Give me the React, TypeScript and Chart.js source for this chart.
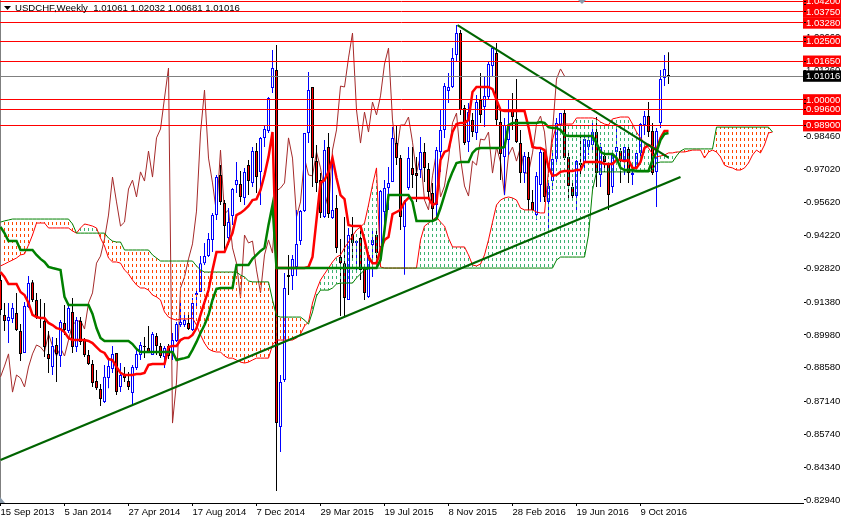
import { Chart, registerables } from 'chart.js';
import { useRef, useEffect } from 'react';

Chart.register(...registerables);

const opens = [
	.9232,.9083,.9057,.9066,.9091,.9015,.8921,.9117,.9223,.9147,
	.9074,.9057,.8917,.8861,.8955,.8908,.9049,.9015,.9096,.8946,
	.9057,.8981,.8912,.8874,.8801,.8767,.8712,.8814,.8853,.8921,
	.8776,.8827,.8801,.8750,.8857,.8912,.8951,.8942,.8912,.8993,
	.8951,.8904,.8951,.8925,.8972,.9040,.9040,.9049,.9019,.9168,
	.9181,.9304,.9334,.9403,.9509,.9680,.9560,.9411,.9505,.9637,
	.9641,.9582,.9722,.9646,.9782,.9693,.9838,.9867,1.0051,1.0128,
	.8605,.8806,.9253,.9249,.9288,.9398,.9526,.9859,1.0055,.9739,
	.9658,.9501,.9799,.9496,.9539,.9330,.9304,.9147,.9428,.9390,
	.9411,.9288,.9160,.9381,.9424,.9373,.9522,.9624,.9650,.9816,
	.9752,.9458,.9624,.9710,.9688,.9701,.9778,.9705,.9603,.9552,
	.9778,.9872,1.0038,1.0055,1.0191,1.0285,.9965,.9820,.9914,.9859,
	1.0000,.9970,1.0012,1.0145,1.0200,.9906,.9757,.9829,.9961,.9919,
	.9816,.9688,.9757,.9565,.9509,.9637,.9778,.9565,.9654,.9748,
	.9893,.9944,.9757,.9629,.9590,.9731,.9731,.9799,.9808,.9863,
	.9680,.9761,.9727,.9629,.9778,.9782,.9744,.9791,.9680,.9710,
	.9774,.9893,.9931,.9867,.9693,.9902,1.0093,1.01061,
];
const closes = [
	.9104,.9057,.9074,.9113,.9019,.8917,.9121,.9219,.9147,.9074,
	.9066,.8946,.8895,.8951,.8917,.9053,.9019,.9113,.8946,.9061,
	.8968,.8912,.8874,.8793,.8771,.8725,.8819,.8865,.8917,.8754,
	.8827,.8814,.8776,.8861,.8917,.8955,.8946,.8925,.9002,.8951,
	.8908,.8942,.8908,.8976,.9044,.9053,.9061,.9023,.9134,.9177,
	.9304,.9334,.9407,.9509,.9671,.9565,.9462,.9479,.9620,.9658,
	.9586,.9693,.9654,.9782,.9671,.9838,.9876,1.0008,1.0136,.8622,
	.8797,.9198,.9245,.9322,.9386,.9526,.9859,1.0042,.9752,.9646,
	.9518,.9786,.9513,.9531,.9369,.9304,.9155,.9424,.9390,.9398,
	.9275,.9177,.9339,.9403,.9347,.9612,.9624,.9646,.9838,.9752,
	.9501,.9565,.9752,.9680,.9676,.9778,.9710,.9607,.9535,.9786,
	.9872,1.0059,1.0055,1.0179,1.0285,.9957,.9816,.9948,.9863,.9991,
	.9936,1.0017,1.0153,1.0221,.9914,.9769,.9893,.9893,.9927,.9820,
	.9688,.9761,.9573,.9531,.9676,.9778,.9586,.9633,.9748,.9902,
	.9944,.9752,.9633,.9590,.9739,.9722,.9833,.9829,.9863,.9688,
	.9799,.9735,.9594,.9765,.9799,.9739,.9799,.9688,.9688,.9774,
	.9897,.9931,.9863,.9688,.9867,1.0089,1.0132,1.01016,
];
const highs = [
	.9254,.9134,.9134,.9134,.9177,.9044,.9138,.9249,.9232,.9177,
	.9151,.9134,.9015,.8989,.8985,.9061,.9125,.9125,.9155,.9074,
	.9074,.8985,.8934,.8891,.8848,.8789,.8870,.8891,.8951,.8921,
	.8878,.8861,.8840,.8870,.8938,.8968,.8989,.9036,.9010,.9006,
	.8963,.8951,.8959,.9006,.9053,.9138,.9096,.9096,.9155,.9189,
	.9334,.9390,.9432,.9518,.9680,.9722,.9573,.9539,.9624,.9735,
	.9697,.9710,.9744,.9799,.9816,.9842,.9889,1.0012,1.0213,1.0234,
	.8827,.9262,.9339,.9339,.9531,.9531,.9859,1.0119,1.0055,.9808,
	.9688,.9829,.9859,.9757,.9594,.9407,.9501,.9454,.9501,.9403,
	.9445,.9292,.9347,.9445,.9445,.9616,.9658,.9714,.9884,.9893,
	.9765,.9573,.9799,.9799,.9757,.9842,.9816,.9731,.9646,.9799,
	.9957,1.0072,1.0115,1.0221,1.0319,1.0298,.9978,.9987,.9944,1.0021,
	1.0115,1.0102,1.0162,1.0226,1.0243,.9957,.9923,1.0000,1.0029,1.0089,
	.9872,.9778,.9778,.9616,.9693,.9795,.9786,.9658,.9778,.9923,
	.9944,.9957,.9786,.9658,.9744,.9863,.9859,.9859,.9902,.9927,
	.9816,.9786,.9731,.9774,.9884,.9795,.9803,.9808,.9731,.9786,
	.9902,.9953,.9991,.9902,.9880,1.0128,1.0191,1.02032,
];
const lows = [
	.9083,.9015,.8963,.9049,.9015,.8887,.8921,.9113,.9138,.9066,
	.9027,.8904,.8836,.8827,.8797,.8861,.8998,.9006,.8921,.8925,
	.8955,.8904,.8870,.8776,.8763,.8695,.8708,.8771,.8836,.8742,
	.8754,.8797,.8763,.8699,.8848,.8891,.8899,.8921,.8912,.8912,
	.8899,.8857,.8895,.8891,.8968,.9032,.9032,.9019,.9015,.9117,
	.9181,.9296,.9330,.9351,.9488,.9552,.9360,.9381,.9467,.9603,
	.9565,.9552,.9594,.9629,.9603,.9552,.9799,.9859,1.0029,.8332,
	.8499,.8797,.9168,.9189,.9249,.9381,.9522,.9816,.9629,.9607,
	.9496,.9496,.9496,.9492,.9347,.9079,.9079,.9147,.9317,.9275,
	.9232,.9147,.9155,.9245,.9317,.9317,.9445,.9531,.9650,.9722,
	.9445,.9254,.9616,.9624,.9565,.9667,.9650,.9573,.9488,.9488,
	.9693,.9838,.9987,1.0051,1.0162,.9936,.9808,.9778,.9842,.9829,
	.9902,.9884,1.0000,1.0098,.9893,.9658,.9594,.9765,.9872,.9816,
	.9646,.9646,.9531,.9518,.9488,.9565,.9565,.9445,.9616,.9722,
	.9863,.9744,.9573,.9573,.9522,.9671,.9701,.9765,.9774,.9629,
	.9629,.9693,.9531,.9603,.9744,.9646,.9680,.9646,.9637,.9693,
	.9731,.9850,.9842,.9680,.9543,.9880,1.0059,1.00681,
];

const tenkan = [
	.9266,.9245,.9215,.9215,.9215,.9181,.9168,.9134,.9083,.9074,
	.9070,.9070,.9049,.9040,.9027,.9023,.9010,.8985,.8976,.8976,
	.8976,.8976,.8972,.8963,.8946,.8929,.8921,.8895,.8891,.8861,
	.8836,.8827,.8827,.8827,.8831,.8831,.8836,.8870,.8874,.8874,
	.8874,.8874,.8946,.8951,.8951,.8976,.8985,.8985,.8998,.9027,
	.9083,.9138,.9189,.9275,.9351,.9351,.9351,.9394,.9432,.9509,
	.9518,.9531,.9548,.9573,.9577,.9616,.9680,.9757,.9863,.9283,
	.9283,.9283,.9283,.9283,.9283,.9283,.9283,.9288,.9330,.9488,
	.9646,.9658,.9693,.9752,.9667,.9594,.9577,.9467,.9462,.9462,
	.9462,.9403,.9330,.9304,.9304,.9360,.9403,.9415,.9513,.9522,
	.9531,.9565,.9582,.9582,.9582,.9582,.9582,.9582,.9552,.9560,
	.9744,.9778,.9786,.9863,.9897,.9902,.9902,.9914,1.0034,1.0055,
	1.0055,1.0055,1.0055,1.0046,1.0000,.9957,.9953,.9953,.9953,.9953,
	.9953,.9953,.9884,.9799,.9795,.9795,.9786,.9714,.9676,.9680,
	.9693,.9697,.9697,.9697,.9701,.9701,.9735,.9735,.9735,.9735,
	.9735,.9727,.9727,.9727,.9744,.9744,.9739,.9744,.9710,.9710,
	.9735,.9795,.9808,.9799,.9786,.9838,.9867,.9867,
];
const kijun = [
	.9458,.9432,.9398,.9398,.9398,.9360,.9360,.9360,.9360,.9339,
	.9322,.9309,.9288,.9283,.9279,.9275,.9160,.9125,.9125,.9125,
	.9125,.9125,.9125,.9087,.9027,.8985,.8972,.8972,.8972,.8972,
	.8972,.8972,.8972,.8959,.8938,.8925,.8925,.8925,.8925,.8925,
	.8925,.8925,.8925,.8925,.8891,.8895,.8899,.8904,.8934,.8968,
	.9006,.9040,.9083,.9147,.9194,.9198,.9198,.9198,.9198,.9296,
	.9296,.9296,.9296,.9322,.9339,.9356,.9369,.9467,.9552,.9283,
	.9283,.9283,.9283,.9283,.9283,.9283,.9283,.9283,.9283,.9283,
	.9283,.9283,.9283,.9283,.9283,.9283,.9283,.9283,.9283,.9283,
	.9283,.9283,.9283,.9283,.9283,.9317,.9445,.9594,.9594,.9594,
	.9594,.9594,.9594,.9565,.9484,.9484,.9484,.9484,.9484,.9492,
	.9539,.9594,.9650,.9693,.9731,.9735,.9735,.9735,.9774,.9791,
	.9795,.9795,.9795,.9795,.9795,.9795,.9799,.9893,.9902,.9902,
	.9902,.9902,.9902,.9902,.9902,.9906,.9902,.9884,.9880,.9880,
	.9872,.9850,.9846,.9846,.9846,.9846,.9846,.9846,.9846,.9816,
	.9778,.9769,.9769,.9769,.9752,.9710,.9701,.9701,.9701,.9697,
	.9697,.9697,.9697,.9744,.9778,.9829,.9855,.9859,
];
const spanA = [
	.9292,.9300,.9309,.9317,.9326,.9339,.9343,.9381,.9424,.9475,
	.9475,.9475,.9454,.9454,.9454,.9454,.9454,.9454,.9441,.9432,
	.9454,.9471,.9467,.9462,.9454,.9411,.9377,.9326,.9309,.9309,
	.9304,.9275,.9258,.9232,.9211,.9198,.9198,.9189,.9168,.9160,
	.9147,.9096,.9074,.9066,.9061,.9066,.9066,.9066,.9070,.9040,
	.8998,.8963,.8938,.8929,.8925,.8925,.8908,.8899,.8899,.8891,
	.8882,.8878,.8882,.8891,.8899,.8899,.8899,.8899,.8955,.8976,
	.8976,.8976,.8976,.8976,.8985,.9002,.9036,.9053,.9134,.9189,
	.9232,.9258,.9283,.9309,.9330,.9339,.9369,.9394,.9420,.9445,
	.9458,.9475,.9552,.9637,.9710,.9288,.9283,.9283,.9283,.9283,
	.9283,.9283,.9283,.9283,.9283,.9403,.9462,.9475,.9488,.9501,
	.9479,.9462,.9411,.9373,.9373,.9373,.9373,.9339,.9296,.9292,
	.9300,.9339,.9403,.9479,.9552,.9573,.9582,.9586,.9582,.9573,
	.9539,.9531,.9531,.9531,.9522,.9518,.9518,.9701,.9829,.9893,
	.9897,.9897,.9897,.9897,.9923,.9923,.9923,.9923,.9923,.9919,
	.9906,.9897,.9893,.9919,.9923,.9927,.9927,.9927,.9897,.9863,
	.9838,.9816,.9795,.9769,.9757,.9761,.9765,.9774,.9774,.9778,
	.9778,.9778,.9782,.9786,.9786,.9786,.9752,.9778,.9786,.9778,
	.9757,.9722,.9714,.9710,.9701,.9701,.9710,.9731,.9765,.9786,
	.9774,.9808,.9859,.9863,
];
const spanB = [
	.9479,.9484,.9488,.9492,.9492,.9492,.9492,.9492,.9492,.9492,
	.9492,.9492,.9492,.9492,.9492,.9492,.9492,.9492,.9471,.9432,
	.9432,.9432,.9432,.9432,.9432,.9432,.9432,.9411,.9398,.9394,
	.9394,.9360,.9360,.9360,.9360,.9360,.9360,.9360,.9339,.9326,
	.9313,.9313,.9313,.9313,.9313,.9313,.9313,.9313,.9313,.9292,
	.9275,.9266,.9266,.9266,.9266,.9266,.9266,.9266,.9266,.9266,
	.9253,.9245,.9228,.9224,.9224,.9224,.9224,.9224,.9147,.9079,
	.9074,.9074,.9074,.9074,.9074,.9074,.9061,.9044,.9096,.9164,
	.9189,.9189,.9189,.9198,.9215,.9219,.9219,.9219,.9219,.9241,
	.9258,.9275,.9279,.9283,.9283,.9283,.9283,.9283,.9283,.9283,
	.9283,.9283,.9283,.9283,.9283,.9283,.9283,.9283,.9283,.9283,
	.9283,.9283,.9283,.9283,.9283,.9283,.9283,.9283,.9283,.9283,
	.9283,.9283,.9283,.9283,.9283,.9283,.9283,.9283,.9283,.9283,
	.9283,.9283,.9283,.9283,.9283,.9283,.9283,.9283,.9283,.9317,
	.9330,.9330,.9330,.9330,.9330,.9330,.9330,.9424,.9616,.9693,
	.9693,.9693,.9693,.9693,.9693,.9693,.9693,.9693,.9693,.9693,
	.9693,.9693,.9693,.9701,.9731,.9735,.9735,.9735,.9735,.9761,
	.9782,.9791,.9791,.9791,.9791,.9791,.9791,.9791,.9791,.9884,
	.9884,.9884,.9884,.9884,.9884,.9884,.9884,.9884,.9884,.9884,
	.9884,.9884,.9884,.9863,
];
const chikou = [
	.8819,.8865,.8917,.8754,
	.8827,.8814,.8776,.8861,.8917,.8955,.8946,.8925,.9002,.8951,
	.8908,.8942,.8908,.8976,.9044,.9053,.9061,.9023,.9134,.9177,
	.9304,.9334,.9407,.9509,.9671,.9565,.9462,.9479,.9620,.9658,
	.9586,.9693,.9654,.9782,.9671,.9838,.9876,1.0008,1.0136,.8622,
	.8797,.9198,.9245,.9322,.9386,.9526,.9859,1.0042,.9752,.9646,
	.9518,.9786,.9513,.9531,.9369,.9304,.9155,.9424,.9390,.9398,
	.9275,.9177,.9339,.9403,.9347,.9612,.9624,.9646,.9838,.9752,
	.9501,.9565,.9752,.9680,.9676,.9778,.9710,.9607,.9535,.9786,
	.9872,1.0059,1.0055,1.0179,1.0285,.9957,.9816,.9948,.9863,.9991,
	.9936,1.0017,1.0153,1.0221,.9914,.9769,.9893,.9893,.9927,.9820,
	.9688,.9761,.9573,.9531,.9676,.9778,.9586,.9633,.9748,.9902,
	.9944,.9752,.9633,.9590,.9739,.9722,.9833,.9829,.9863,.9688,
	.9799,.9735,.9594,.9765,.9799,.9739,.9799,.9688,.9688,.9774,
	.9897,.9931,.9863,.9688,.9867,1.0089,1.0132,1.01016,
];

// price levels drawn as horizontal lines, and the current price
const levels = [1.042, 1.0375, 1.0328, 1.025, 1.0165, 1.0, 0.996, 0.989];
const currentPrice = 1.01016;
// regular axis prices, then the levels so their boxes cover them
const axisPrices = [
	0.8294, 0.8434, 0.8574, 0.8714, 0.8858, 0.8998, 0.9138, 0.9282, 0.9422, 0.9562,
	0.9702, 0.9846, 0.9986, 1.0126, 1.0266, 1.0406,
];
const dateTicks = [0, 16, 32, 48, 64, 80, 96, 112, 128, 144, 160];
const dateLabels = [
	'15 Sep 2013', '5 Jan 2014', '27 Apr 2014', '17 Aug 2014', '7 Dec 2014', '29 Mar 2015',
	'19 Jul 2015', '8 Nov 2015', '28 Feb 2016', '19 Jun 2016', '9 Oct 2016',
];
const supportX = [0, 170];
const supportY = [0.8465, 0.9671];
const resistanceX = [114.25, 167];
const resistanceY = [1.0319, 0.9754];

const header = 'USDCHF,Weekly  1.01061 1.02032 1.00681 1.01016';
const axisFont = { family: '"Liberation Sans"', size: 9.5 };

const toPoints = (values: number[]) => values.map((y, x) => ({ x, y }));

// dashed vertical hatch used by the cloud, one column per bar
const makeHatch = (color: string) => {
	const tile = document.createElement('canvas');
	tile.width = 4;
	tile.height = 6;
	const ctx = tile.getContext('2d')!;
	ctx.fillStyle = color;
	ctx.fillRect(0, 0, 1, 3);
	return ctx.createPattern(tile, 'repeat')!;
};

const labelsPlugin = {
	id: 'mtHeader',
	afterDraw(chart: Chart) {
		const { ctx } = chart;
		ctx.save();
		ctx.fillStyle = '#000000';
		ctx.beginPath();
		ctx.moveTo(4, 6);
		ctx.lineTo(11, 6);
		ctx.lineTo(7.5, 10);
		ctx.fill();
		ctx.font = '9.6px "Liberation Sans"';
		ctx.textBaseline = 'middle';
		ctx.fillText(header, 15, 8);
		ctx.fillStyle = '#8899aa';
		ctx.beginPath();
		ctx.moveTo(578, 0);
		ctx.lineTo(586, 0);
		ctx.lineTo(582, 4);
		ctx.fill();
		ctx.beginPath();
		ctx.moveTo(0, 497);
		ctx.lineTo(5, 503);
		ctx.lineTo(0, 503);
		ctx.fill();
		ctx.restore();
	},
};

export default function App() {
	const canvasRef = useRef<HTMLCanvasElement>(null);

	useEffect(() => {
		const ctx = canvasRef.current?.getContext('2d');
		if (!ctx) return;

		const bull = closes.map((c, i) => c >= opens[i]);
		const line = (
			label: string,
			data: { x: number; y: number }[],
			color: string,
			width: number,
			order: number
		) => ({
			type: 'line',
			label,
			data,
			borderColor: color,
			borderWidth: width,
			pointRadius: 0,
			tension: 0,
			fill: false,
			order,
		});

		const chart = new Chart(ctx, {
			type: 'bar',
			plugins: [labelsPlugin],
			data: {
				datasets: [
					line('Support', supportX.map((x, i) => ({ x, y: supportY[i] })), '#006400', 2.2, 1),
					line('Resistance', resistanceX.map((x, i) => ({ x, y: resistanceY[i] })), '#006400', 2.2, 1),
					line('Tenkan', toPoints(tenkan), '#ff0000', 2.5, 3),
					line('Kijun', toPoints(kijun), '#008000', 2.5, 2),
					{
						...line('Senkou A', toPoints(spanA), '#ff0000', 1, 5),
						fill: { target: '+1', above: makeHatch('#3cb371'), below: makeHatch('#ff4500') },
					},
					line('Senkou B', toPoints(spanB), '#008000', 1, 4),
					{
						type: 'bar',
						label: 'Body',
						data: opens.map((o, i) => ({ x: i, y: [o, closes[i]] })),
						backgroundColor: bull.map((b) => (b ? '#ffffff' : '#ff0000')),
						borderColor: bull.map((b) => (b ? '#0000ff' : '#000000')),
						borderWidth: 1,
						borderSkipped: false,
						inflateAmount: 0,
						barThickness: 3,
						grouped: false,
						order: 7,
					},
					{
						type: 'bar',
						label: 'Wick',
						data: lows.map((l, i) => ({ x: i, y: [l, highs[i]] })),
						backgroundColor: bull.map((b) => (b ? '#0000ff' : '#000000')),
						borderWidth: 0,
						inflateAmount: 0,
						barThickness: 1,
						grouped: false,
						order: 8,
					},
					line('Chikou', toPoints(chikou), '#a52a2a', 1, 9),
				],
			},
			options: {
				responsive: false,
				devicePixelRatio: 1,
				animation: false,
				layout: { padding: 0 },
				plugins: {
					legend: { display: false },
					tooltip: { enabled: false },
				},
				scales: {
					x: {
						type: 'linear',
						min: -0.125,
						max: 200.625,
						offset: false,
						bounds: 'data',
						afterBuildTicks: (axis: any) => {
							axis.ticks = dateTicks.map((value) => ({ value }));
						},
						afterFit: (axis: any) => {
							axis.height = 16;
							axis.paddingLeft = 0;
							axis.paddingRight = 0;
						},
						grid: { drawOnChartArea: false, offset: false, tickLength: 3, tickColor: '#000000' },
						border: { color: '#000000' },
						ticks: {
							autoSkip: false,
							maxRotation: 0,
							align: 'start',
							padding: 1,
							color: '#000000',
							font: axisFont,
							callback: (value: number) => dateLabels[dateTicks.indexOf(value)],
						},
					},
					y: {
						type: 'linear',
						position: 'right',
						min: 0.82812,
						max: 1.0426,
						bounds: 'data',
						afterBuildTicks: (axis: any) => {
							axis.ticks = [...axisPrices, ...levels, currentPrice].map((value) => ({ value }));
						},
						afterFit: (axis: any) => {
							axis.width = 38;
							axis.paddingTop = 0;
							axis.paddingBottom = 0;
						},
						grid: {
							z: 1,
							tickLength: 3,
							tickColor: '#000000',
							color: (c: any) => {
								const v = c.tick?.value;
								if (levels.includes(v)) return '#ff0000';
								return v === currentPrice ? '#808080' : 'rgba(0,0,0,0)';
							},
						},
						border: { color: '#000000' },
						ticks: {
							autoSkip: false,
							padding: 0,
							font: axisFont,
							color: (c: any) =>
								levels.includes(c.tick?.value) || c.tick?.value === currentPrice ? '#ffffff' : '#000000',
							showLabelBackdrop: (c: any) =>
								levels.includes(c.tick?.value) || c.tick?.value === currentPrice,
							backdropColor: (c: any) => (c.tick?.value === currentPrice ? '#000000' : '#ff0000'),
							backdropPadding: { top: 0, bottom: 0, left: 3, right: 3 },
							callback: (value: number) => value.toFixed(5),
						},
					},
				},
			},
		} as any);
		return () => chart.destroy();
	}, []);

	return (
		<div style={{ position: 'absolute', left: 0, top: 0, background: '#ffffff' }}>
			<canvas ref={canvasRef} width={841} height={519} style={{ display: 'block' }} />
		</div>
	);
}
